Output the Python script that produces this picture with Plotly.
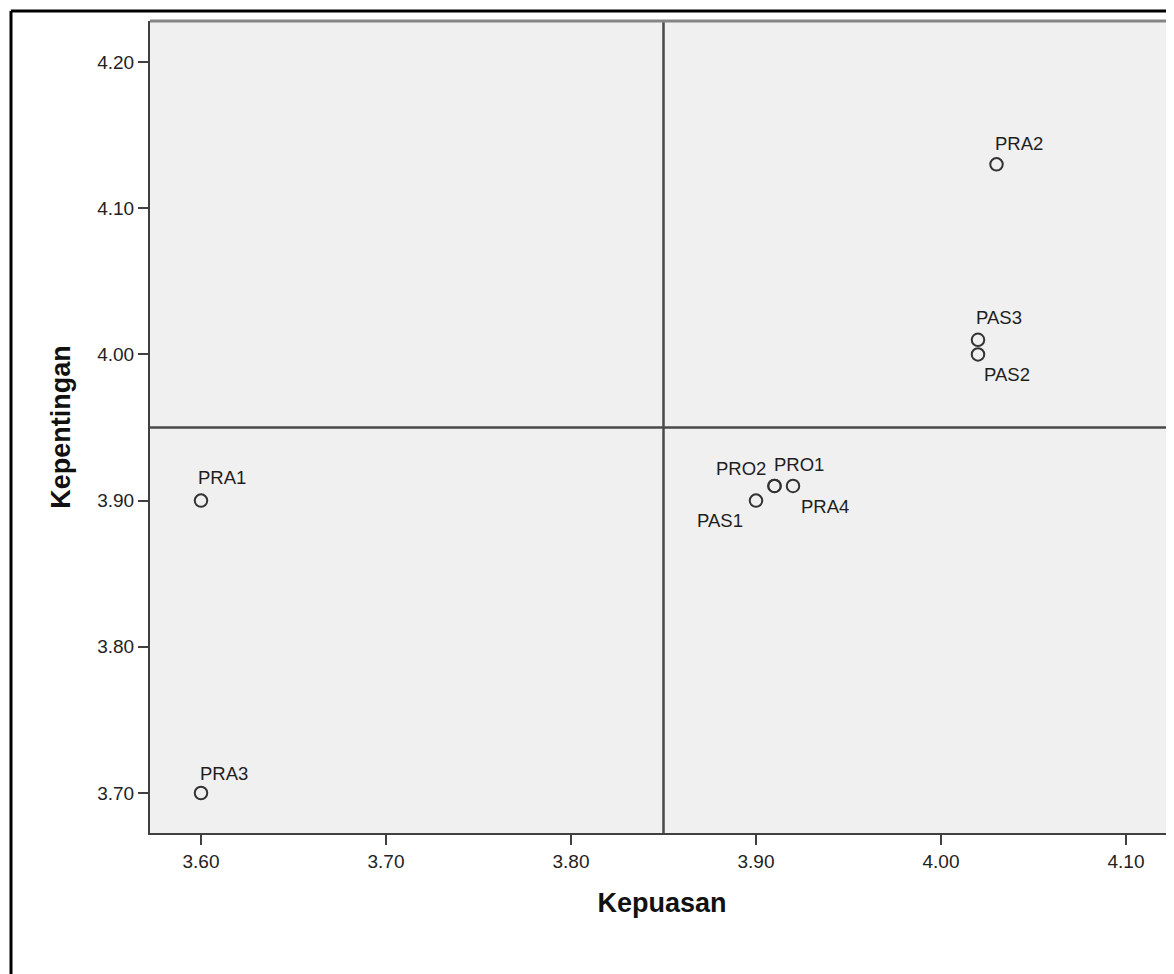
import plotly.graph_objects as go

# ---- data ----
names = ["PRA1", "PRA2", "PRA3", "PRA4", "PRO1", "PRO2", "PAS1", "PAS2", "PAS3"]
kepuasan = [3.60, 4.03, 3.60, 3.92, 3.91, 3.91, 3.90, 4.02, 4.02]
kepentingan = [3.90, 4.13, 3.70, 3.91, 3.91, 3.91, 3.90, 4.00, 4.01]
x_ticks = [3.60, 3.70, 3.80, 3.90, 4.00, 4.10]
y_ticks = [3.70, 3.80, 3.90, 4.00, 4.10, 4.20]
x_ref = 3.85
y_ref = 3.95

# ---- label placement (style): xanchor, xshift px, yshift px ----
label_pos = {
    "PRA1": ("left", -5, 23),
    "PRA2": ("left", -4, 21),
    "PRA3": ("left", -3, 20),
    "PRA4": ("left", 6, -21),
    "PRO1": ("left", -3, 21),
    "PRO2": ("right", -7, 17),
    "PAS1": ("right", -11, -20),
    "PAS2": ("left", 4, -20),
    "PAS3": ("left", -4, 22),
}

OFF = 8  # default body margin of the page
W, H = 1174 - OFF, 974 - OFF
ML, MR, MT = 150 - OFF, 0, 21 - OFF
MB = H - (833 - OFF)
PW, PH = W - ML - MR, H - MT - MB
FONT = "Liberation Sans, Arial, sans-serif"

fig = go.Figure()
fig.add_trace(go.Scatter(
    x=kepuasan, y=kepentingan, mode="markers",
    marker=dict(symbol="circle-open", size=12.5, color="#333333",
                line=dict(width=2, color="#333333")),
    hoverinfo="text", text=names, showlegend=False,
))

annotations = []
for n, xv, yv in zip(names, kepuasan, kepentingan):
    anc, xs, ys = label_pos[n]
    annotations.append(dict(
        x=xv, y=yv, xref="x", yref="y", text=n, showarrow=False,
        xanchor=anc, yanchor="middle", xshift=xs, yshift=ys,
        font=dict(family=FONT, size=18.5, color="#1e1e1e"),
    ))

def px_x(p):
    return (p - OFF - ML) / PW

def px_y(p):
    return 1 - (p - OFF - MT) / PH

shapes = [
    # reference lines
    dict(type="line", xref="x", yref="paper", x0=x_ref, x1=x_ref, y0=0, y1=1,
         line=dict(color="#4a4a4a", width=2.5)),
    dict(type="line", xref="paper", yref="y", x0=0, x1=1, y0=y_ref, y1=y_ref,
         line=dict(color="#4a4a4a", width=2.5)),
    # top border of plot area
    dict(type="line", xref="paper", yref="paper", x0=0, x1=1.01, y0=1, y1=1,
         line=dict(color="#858585", width=3)),
    # outer frame (left and top)
    dict(type="line", xref="paper", yref="paper", x0=px_x(11), x1=px_x(11),
         y0=px_y(11), y1=px_y(1000), line=dict(color="#000000", width=3)),
    dict(type="line", xref="paper", yref="paper", x0=px_x(11), x1=px_x(1200),
         y0=px_y(11), y1=px_y(11), line=dict(color="#000000", width=3)),
]

x_lo = x_ticks[0] - (201 - 150) / 1850
x_hi = x_ticks[0] + (1174 - 201) / 1850
y_lo = y_ticks[0] - (833 - 793) / 1462
y_hi = y_ticks[-1] + (62 - 21) / 1462

axis_common = dict(
    showgrid=False, zeroline=False, showline=True, linecolor="#404040",
    linewidth=2, ticks="outside", ticklen=10, tickwidth=2, tickcolor="#404040",
    tickfont=dict(family=FONT, size=19, color="#222222"),
)

fig.update_layout(
    width=W, height=H,
    margin=dict(l=ML, r=MR, t=MT, b=MB, pad=0),
    paper_bgcolor="white", plot_bgcolor="#f0f0f0",
    xaxis=dict(range=[x_lo, x_hi], tickvals=x_ticks,
               ticktext=[f"{v:.2f}" for v in x_ticks],
               title=dict(text="Kepuasan", standoff=22,
                          font=dict(family=FONT, size=27, color="#111111", weight="bold")),
               **axis_common),
    yaxis=dict(range=[y_lo, y_hi], tickvals=y_ticks,
               ticktext=[f"{v:.2f}" for v in y_ticks],
               title=dict(text="Kepentingan", standoff=19,
                          font=dict(family=FONT, size=27, color="#111111", weight="bold")),
               **axis_common),
    annotations=annotations,
    shapes=shapes,
)

fig.write_html("out.html")
